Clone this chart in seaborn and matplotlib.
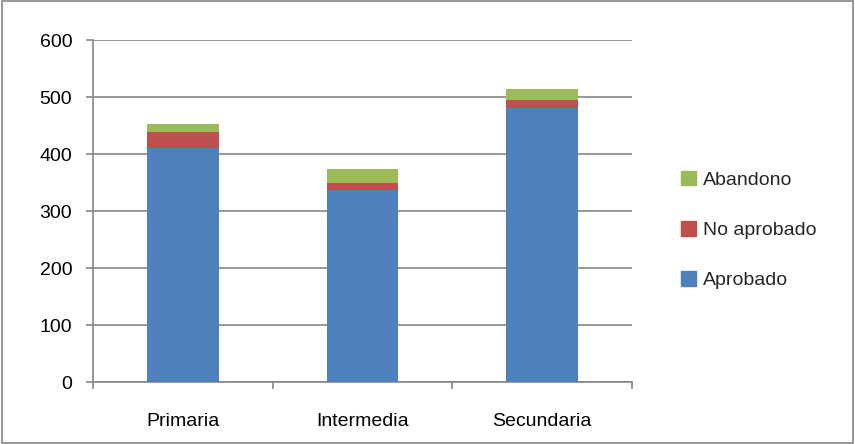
import pandas as pd
import matplotlib.pyplot as plt
import seaborn as sns
from matplotlib.patches import Patch, Rectangle

# values
niveles = ["Primaria", "Intermedia", "Secundaria"]
aprobado = [411, 336, 481]
no_aprobado = [27, 14, 14]
abandono = [15, 24, 19]

colores = {"Aprobado": "#4F81BD", "No aprobado": "#C0504D", "Abandono": "#9BBB59"}

df = pd.DataFrame({"Nivel": niveles, "Aprobado": aprobado,
                   "No aprobado": no_aprobado, "Abandono": abandono})
# cumulative heights for stacking
df["tope_rojo"] = df["Aprobado"] + df["No aprobado"]
df["tope_verde"] = df["tope_rojo"] + df["Abandono"]

sns.set_style("white")
plt.rcParams["font.family"] = ["Liberation Sans", "DejaVu Sans"]

fig = plt.figure(figsize=(8.55, 4.44), dpi=100)
ax = fig.add_axes([0.1088, 0.1396, 0.6302, 0.7703])

# draw tallest first so the shorter ones sit on top
sns.barplot(data=df, x="Nivel", y="tope_verde", color=colores["Abandono"],
            width=0.4, saturation=1, linewidth=0, ax=ax, zorder=3)
sns.barplot(data=df, x="Nivel", y="tope_rojo", color=colores["No aprobado"],
            width=0.4, saturation=1, linewidth=0, ax=ax, zorder=3)
sns.barplot(data=df, x="Nivel", y="Aprobado", color=colores["Aprobado"],
            width=0.4, saturation=1, linewidth=0, ax=ax, zorder=3)

ax.set_ylim(0, 600)
ax.set_xlim(-0.5, 2.5)
ax.set_yticks(range(0, 601, 100))
ax.yaxis.grid(True, color="#868686", linewidth=1.2, zorder=0)
ax.set_axisbelow(True)
ax.set_xlabel("")
ax.set_ylabel("")

for s in ["top", "right"]:
    ax.spines[s].set_visible(False)
for s in ["left", "bottom"]:
    ax.spines[s].set_color("#868686")
    ax.spines[s].set_linewidth(1.2)

# x ticks at category boundaries, labels centred
ax.set_xticks([-0.5, 0.5, 1.5, 2.5], minor=False)
ax.set_xticklabels([])
ax.set_xticks([0, 1, 2], minor=True)
ax.set_xticklabels(niveles, minor=True, fontsize=14)
ax.tick_params(axis="x", which="major", length=5, width=1.2, color="#868686", direction="out")
ax.tick_params(axis="x", which="minor", length=0, pad=22, labelcolor="black")
ax.tick_params(axis="y", length=5, width=1.2, color="#868686", direction="out",
               labelsize=14, pad=10, labelcolor="black")
ax.tick_params(bottom=True, left=True, which="both")

handles = [Patch(color=colores[k], label=k) for k in ["Abandono", "No aprobado", "Aprobado"]]
fig.legend(handles=handles, loc="center left", bbox_to_anchor=(0.776, 0.482),
           frameon=False, fontsize=14, handlelength=0.78, handleheight=0.78,
           handletextpad=0.35, labelspacing=1.65)

# outer gray border like the original chart frame
fig.patches.append(Rectangle((0.002, 0.003), 0.996, 0.994, transform=fig.transFigure,
                             fill=False, edgecolor="#868686", linewidth=1.2))

fig.savefig("out.png", dpi=100)
